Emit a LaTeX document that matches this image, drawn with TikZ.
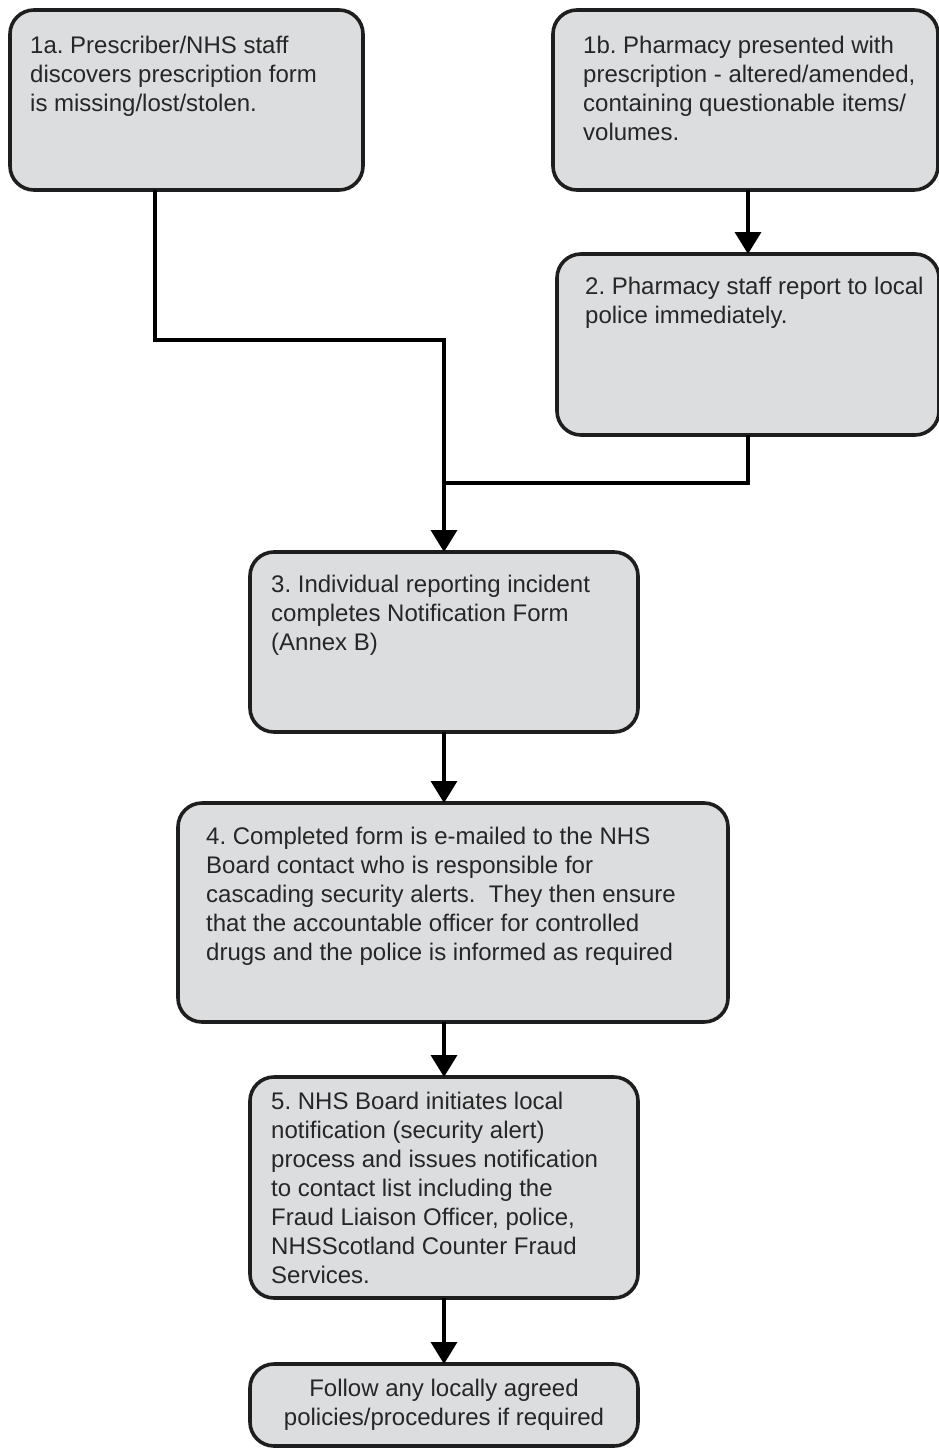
\documentclass[tikz,border=0pt]{standalone}
\usepackage{fontspec}
\setmainfont{Liberation Sans}
\usetikzlibrary{arrows.meta,calc}
\definecolor{boxfill}{HTML}{DCDDDF}
\definecolor{boxline}{HTML}{1E1E1E}
\definecolor{txtcol}{HTML}{262626}
\frenchspacing
\begin{document}
\begin{tikzpicture}[x=1pt,y=-1pt,
  box/.style={draw=boxline, line width=3.6pt, fill=boxfill, rounded corners=24pt,
    inner sep=0pt, outer sep=0pt, anchor=north west, rectangle},
  txt/.style={font=\fontsize{24}{29}\selectfont, text=txtcol, align=left,
    inner sep=0pt, anchor=north west},
  conn/.style={line width=3.6pt, draw=black},
  arr/.style={conn, -{Triangle[width=26pt,length=22pt]}}]
\useasboundingbox (0,0) rectangle (938,1450);
% boxes
\node[box, minimum width=353pt, minimum height=180pt] (b1a) at (10,10) {};
\node[box, minimum width=385pt, minimum height=180pt] (b1b) at (553,10) {};
\node[box, minimum width=382pt, minimum height=181pt] (b2) at (557,254) {};
\node[box, minimum width=388pt, minimum height=180pt] (b3) at (250,552) {};
\node[box, minimum width=550pt, minimum height=219pt] (b4) at (178,803) {};
\node[box, minimum width=388pt, minimum height=221pt] (b5) at (250,1077) {};
\node[box, minimum width=388pt, minimum height=82pt] (b6) at (250,1364) {};
% texts
\node[txt] (t1a) at (30,36) {1a. Prescriber/NHS staff\\discovers prescription form\\is missing/lost/stolen.};
\node[txt] (t1b) at (583,36) {1b. Pharmacy presented with\\prescription - altered/amended,\\containing questionable items/\\volumes.};
\node[txt] (t2) at (585,277) {2. Pharmacy staff report to local\\police immediately.};
\node[txt] (t3) at (271,575) {3. Individual reporting incident\\completes Notification Form\\(Annex B)};
\node[txt] (t4) at (206,827) {4. Completed form is e-mailed to the NHS\\Board contact who is responsible for\\cascading security alerts.\ \ They then ensure\\that the accountable officer for controlled\\drugs and the police is informed as required};
\node[txt] (t5) at (271,1092) {5. NHS Board initiates local\\notification (security alert)\\process and issues notification\\to contact list including the\\Fraud Liaison Officer, police,\\NHSScotland Counter Fraud\\Services.};
\node[txt, align=center, anchor=center] (t6) at (b6.center) {Follow any locally agreed\\policies/procedures if required};
% connectors
\coordinate (j1) at (155,340);
\coordinate (j2) at (445,483);
\draw[arr] (b1b.south -| b2.north) -- (b2.north);
\draw[arr] (b1a.south -| j1) -- (j1) -| (b3.north);
\draw[conn] (b2.south) |- (j2);
\draw[arr] (b3.south) -- (b3.south |- b4.north);
\draw[arr] (b4.south -| b3.south) -- (b5.north);
\draw[arr] (b5.south) -- (b6.north);
\end{tikzpicture}
\end{document}
